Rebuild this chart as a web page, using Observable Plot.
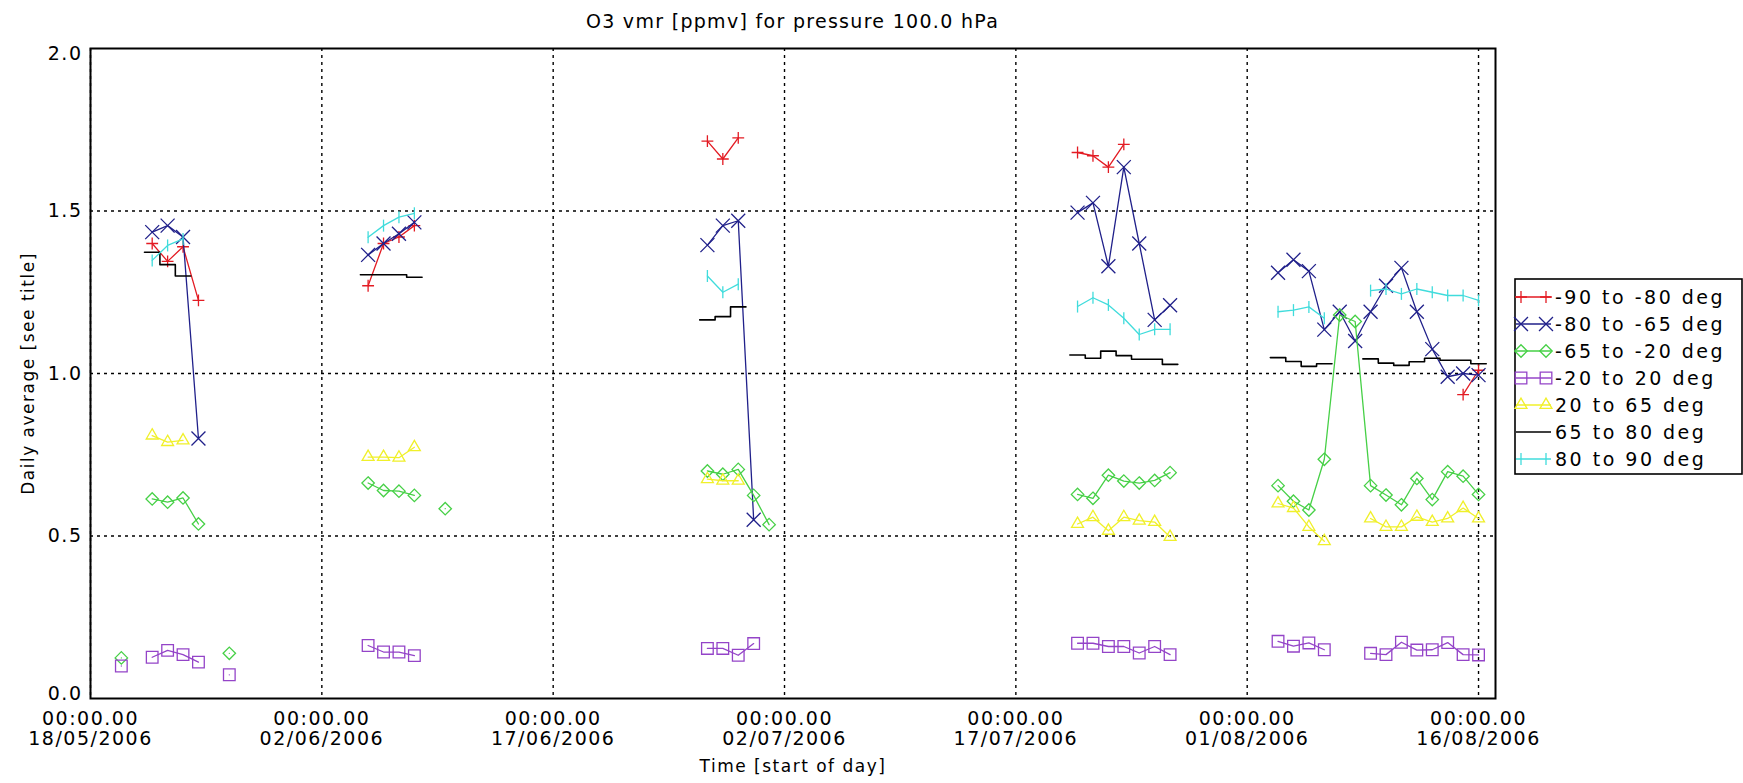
<!DOCTYPE html>
<html>
<head>
<meta charset="utf-8">
<script src="https://cdn.jsdelivr.net/npm/d3@7"></script>
<script src="https://cdn.jsdelivr.net/npm/@observablehq/plot@0.6"></script>
<style>
html, body { margin: 0; padding: 0; background: #fff; }
#wrap { display: flex; width: 1743px; height: 783px; font-family: "DejaVu Sans", sans-serif; color: #000; }
#left { width: 1505px; }
#title { height: 40px; box-sizing: border-box; padding: 13px 10px 0 90px; text-align: center;
  font-size: 19px; line-height: 16px; letter-spacing: 1.3px; white-space: nowrap; }
#legend { margin-left: 9px; margin-top: 278px; }
svg text { letter-spacing: 1.5px; }
</style>
</head>
<body>
<div id="wrap">
  <div id="left">
    <div id="title">O3 vmr [ppmv] for pressure 100.0 hPa</div>
    <div id="chart"></div>
  </div>
  <div id="legend"></div>
</div>
<script>
// ---- data (daily averages, null = no data) ----
const dates = [
  "2006-05-20","2006-05-22","2006-05-23","2006-05-24","2006-05-25","2006-05-27",
  "2006-06-05","2006-06-06","2006-06-07","2006-06-08","2006-06-10",
  "2006-06-27","2006-06-28","2006-06-29","2006-06-30","2006-07-01",
  "2006-07-21","2006-07-22","2006-07-23","2006-07-24","2006-07-25","2006-07-26","2006-07-27",
  "2006-08-03","2006-08-04","2006-08-05","2006-08-06","2006-08-07","2006-08-08","2006-08-09",
  "2006-08-10","2006-08-11","2006-08-12","2006-08-13","2006-08-14","2006-08-15","2006-08-16"
];
const _ = null;
const s90to80S = [_, 1.40, 1.345, 1.39, 1.225, _,  1.27, 1.40, 1.42, 1.455, _,
  1.715, 1.66, 1.725, _, _,  1.68, 1.67, 1.635, 1.705, _, _, _,
  _, _, _, _, _, _, _, _, _, _, _, _, 0.935, 1.01];
const s80to65S = [_, 1.435, 1.455, 1.42, 0.80, _,  1.365, 1.40, 1.43, 1.465, _,
  1.395, 1.455, 1.47, 0.55, _,  1.495, 1.525, 1.33, 1.635, 1.40, 1.165, 1.21,
  1.31, 1.35, 1.315, 1.135, 1.19, 1.10, 1.19, 1.27, 1.325, 1.19, 1.075, 0.99, 1.0, 0.995];
const s65to20S = [0.125, 0.614, 0.604, 0.617, 0.537, 0.139,  0.663, 0.64, 0.638, 0.625, 0.584,
  0.70, 0.69, 0.705, 0.625, 0.535,  0.628, 0.616, 0.687, 0.669, 0.663, 0.671, 0.695,
  0.655, 0.607, 0.58, 0.736, 1.18, 1.16, 0.655, 0.626, 0.596, 0.677, 0.612, 0.698, 0.684, 0.628];
const s20Sto20N = [0.10, 0.127, 0.148, 0.135, 0.112, 0.073,  0.163, 0.143, 0.143, 0.132, _,
  0.154, 0.154, 0.133, 0.169, _,  0.17, 0.17, 0.16, 0.16, 0.14, 0.16, 0.135,
  0.176, 0.161, 0.171, 0.15, _, _, 0.139, 0.135, 0.173, 0.149, 0.15, 0.172, 0.135, 0.134];
const s20to65N = [_, 0.809, 0.789, 0.794, _, _,  0.743, 0.743, 0.741, 0.773, _,
  0.675, 0.67, 0.67, _, _,  0.537, 0.558, 0.516, 0.558, 0.547, 0.543, 0.497,
  0.60, 0.586, 0.528, 0.484, _, _, 0.554, 0.528, 0.528, 0.559, 0.543, 0.554, 0.586, 0.554];
const s65to80N = [_, 1.373, 1.335, 1.30, _, _,  1.304, 1.304, 1.304, 1.296, _,
  1.165, 1.175, 1.205, _, _,  1.057, 1.047, 1.069, 1.055, 1.044, 1.044, 1.028,
  1.049, 1.037, 1.022, 1.03, _, _, 1.045, 1.032, 1.025, 1.036, 1.047, 1.041, 1.041, 1.03];
const s80to90N = [_, 1.348, 1.394, 1.414, _, _,  1.419, 1.455, 1.481, 1.493, _,
  1.30, 1.25, 1.275, _, _,  1.206, 1.233, 1.211, 1.17, 1.12, 1.136, 1.136,
  1.19, 1.195, 1.205, 1.17, _, _, 1.255, 1.26, 1.245, 1.26, 1.25, 1.24, 1.24, 1.225];

const seriesNames = ["-90 to -80 deg", "-80 to -65 deg", "-65 to -20 deg", "-20 to 20 deg",
  "20 to 65 deg", "65 to 80 deg", "80 to 90 deg"];
const xTickLabels = ["2006-05-18","2006-06-02","2006-06-17","2006-07-02","2006-07-17","2006-08-01","2006-08-16"];
const yTickValues = [0.0, 0.5, 1.0, 1.5, 2.0];

// ---- styling ----
const bar = { draw(ctx, size) { ctx.moveTo(0, -6); ctx.lineTo(0, 6); } };
const styles = [
  { color: "#e31b23", symbol: "plus", r: 3.9, kind: "line" },
  { color: "#20208a", symbol: "times", r: 6.4, kind: "line" },
  { color: "#46d046", symbol: "diamond2", r: 5.6, kind: "line" },
  { color: "#9444c8", symbol: "square2", r: 7.4, kind: "line" },
  { color: "#f0f02a", symbol: "triangle2", r: 5.7, kind: "line" },
  { color: "#000000", symbol: null, r: 0, kind: "step" },
  { color: "#40dcdc", symbol: bar, r: 4, kind: "line" }
];
const allValues = [s90to80S, s80to65S, s65to20S, s20Sto20N, s20to65N, s65to80N, s80to90N];

const parse = d3.utcParse("%Y-%m-%d");
const D = dates.map(parse);
const DAY = 864e5;

function lineRows(vals) {
  const rows = [];
  vals.forEach((v, i) => {
    if (i > 0 && D[i] - D[i - 1] > DAY) rows.push({ x: D[i], y: NaN });
    rows.push({ x: D[i], y: v == null ? NaN : v });
  });
  return rows;
}
function dotRows(vals) {
  return vals.map((v, i) => ({ x: D[i], y: v })).filter(d => d.y != null);
}
// histogram-style (IDL psym=10) rows: each value spans half a day either side
function stepRows(vals) {
  const rows = [];
  let prev = null;
  vals.forEach((v, i) => {
    const ok = v != null;
    const contiguous = prev != null && ok && (D[i] - D[prev] <= DAY);
    if (prev != null && !contiguous) {
      rows.push({ x: new Date(+D[prev] + DAY / 2), y: vals[prev] });
      rows.push({ x: D[prev], y: NaN });
    }
    if (ok) {
      if (!contiguous) rows.push({ x: new Date(+D[i] - DAY / 2), y: v });
      rows.push({ x: D[i], y: v });
      prev = i;
    } else prev = null;
  });
  if (prev != null) rows.push({ x: new Date(+D[prev] + DAY / 2), y: vals[prev] });
  return rows;
}

const xTicks = xTickLabels.map(parse);
const xDomain = [parse("2006-05-18"), new Date(+parse("2006-08-17") + 0.1 * DAY)];
const fmtDate = d3.utcFormat("%d/%m/%Y");
const gridStyle = { stroke: "#000", strokeOpacity: 1, strokeWidth: 1.4, strokeDasharray: "3,4" };

const marks = [
  Plot.gridX(xTicks, gridStyle),
  Plot.gridY(yTickValues.filter(v => v > 0 && v < 2), gridStyle)
];
allValues.forEach((vals, k) => {
  const st = styles[k];
  if (st.kind === "step") {
    marks.push(Plot.line(stepRows(vals), { x: "x", y: "y", stroke: st.color, strokeWidth: 1.6, curve: "step" }));
  } else {
    marks.push(Plot.line(lineRows(vals), { x: "x", y: "y", stroke: st.color, strokeWidth: 1.3 }));
    marks.push(Plot.dot(dotRows(vals), { x: "x", y: "y", symbol: st.symbol, r: st.r, stroke: st.color, fill: "none", strokeWidth: 1.3 }));
  }
});
const yFmt = d3.format(".1f");
marks.push(
  Plot.frame({ stroke: "#000", strokeWidth: 2 }),
  Plot.axisX(xTicks, { tickSize: 0, tickPadding: 12, fontSize: 19, lineHeight: 1.05,
    tickFormat: d => "00:00.00\n" + fmtDate(d), label: null }),
  Plot.axisY(yTickValues.filter(v => v > 0 && v < 2), { tickSize: 0, tickPadding: 8, fontSize: 19, tickFormat: yFmt, label: null }),
  Plot.axisY(yTickValues.filter(v => v === 2), { tickSize: 0, tickPadding: 8, fontSize: 19, tickFormat: yFmt, dy: 5, label: null }),
  Plot.axisY(yTickValues.filter(v => v === 0), { tickSize: 0, tickPadding: 8, fontSize: 19, tickFormat: yFmt, dy: -5, label: null }),
  Plot.text(["Daily average [see title]"], { text: d => d, frameAnchor: "left", textAnchor: "middle", lineAnchor: "middle",
    rotate: -90, dx: -62, fontSize: 17 }),
  Plot.text(["Time [start of day]"], { text: d => d, frameAnchor: "bottom", textAnchor: "middle", lineAnchor: "bottom",
    dy: 73, fontSize: 17 })
);

const chart = Plot.plot({
  width: 1505, height: 743,
  marginLeft: 90, marginRight: 10, marginTop: 8, marginBottom: 85,
  style: { fontFamily: "DejaVu Sans, sans-serif", background: "#fff", color: "#000", overflow: "visible" },
  x: { type: "utc", domain: xDomain, axis: null, label: null },
  y: { domain: [0, 2], axis: null, label: null },
  marks
});
document.getElementById("chart").appendChild(chart);

// ---- legend ----
const lw = 227, lh = 195, top0 = 19, step = 27;
const lsvg = d3.select("#legend").append("svg").attr("width", lw + 2).attr("height", lh + 2)
  .style("font-family", "DejaVu Sans, sans-serif").style("overflow", "visible");
lsvg.append("rect").attr("x", 1).attr("y", 1).attr("width", lw).attr("height", lh)
  .attr("fill", "none").attr("stroke", "#000").attr("stroke-width", 1.6);
const symMap = { plus: d3.symbolPlus, times: d3.symbolTimes, diamond2: d3.symbolDiamond2,
  square2: d3.symbolSquare2, triangle2: d3.symbolTriangle2 };
seriesNames.forEach((name, k) => {
  const st = styles[k];
  const y = top0 + k * step;
  const g = lsvg.append("g").attr("transform", `translate(0,${y})`);
  g.append("line").attr("x1", 2).attr("x2", 37).attr("y1", 0).attr("y2", 0)
    .attr("stroke", st.color).attr("stroke-width", st.kind === "step" ? 1.6 : 1.3);
  if (st.symbol) {
    const sym = typeof st.symbol === "string" ? symMap[st.symbol] : st.symbol;
    const path = d3.symbol(sym, Math.PI * st.r * st.r)();
    [7, 32].forEach(px => g.append("path").attr("d", path).attr("transform", `translate(${px},0)`)
      .attr("fill", "none").attr("stroke", st.color).attr("stroke-width", 1.3));
  }
  g.append("text").attr("x", 41).attr("y", 0).attr("dy", "0.36em")
    .attr("font-size", 19).style("letter-spacing", "2.5px").attr("fill", "#000").text(name);
});
</script>
</body>
</html>
